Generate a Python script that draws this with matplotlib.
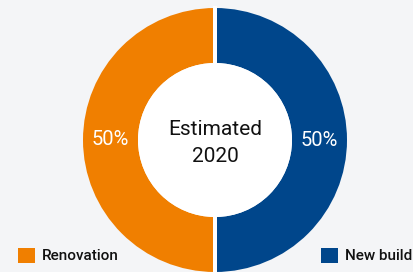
import matplotlib.pyplot as plt
from matplotlib.patches import Patch, Circle, Rectangle

labels = ['Renovation', 'New build']
shares = [50, 50]
colors = ['#f07f00', '#00468b']
center_text = 'Estimated\n2020'

BG = '#f4f5f7'
plt.rcParams['font.family'] = ['Roboto', 'DejaVu Sans']

fig = plt.figure(figsize=(4.14, 2.72), dpi=100, facecolor=BG)
ax = fig.add_axes([0, 0, 1, 1])
ax.set_facecolor(BG)

R, W = 132, 55
cx, cy = 215, 140
wedges, texts = ax.pie(shares, colors=colors, startangle=90, counterclock=True,
                       radius=R, center=(cx, cy), frame=True,
                       labels=['%d%%' % s for s in shares], labeldistance=(R - W / 2) / R,
                       textprops=dict(color='white', fontsize=14.5, ha='center', va='center'),
                       wedgeprops=dict(width=W, edgecolor='none', linewidth=0))
# white hole + gap between the two halves
ax.add_patch(Circle((cx, cy), R - W, facecolor='white', edgecolor='none', zorder=3))
ax.add_patch(Rectangle((cx - 1.8, cy - R - 2), 3.6, 2 * R + 4, facecolor='white',
                       edgecolor='none', zorder=3))
ax.set_xlim(0, 414)
ax.set_ylim(272, 0)
ax.set_aspect('equal')
ax.axis('off')

ax.text(cx, cy + 3, center_text, ha='center', va='center', fontsize=15,
        color='#111111', linespacing=1.5, zorder=4)

# legend runs past the right edge, as in the original
handles = [Patch(facecolor=c, edgecolor='none') for c in colors]
leg = fig.legend(handles, labels, loc='center left', bbox_to_anchor=(0.0285, 0.06),
                 ncol=2, frameon=False, handlelength=1.1, handleheight=1.1,
                 handletextpad=0.45, columnspacing=13.25, borderaxespad=0,
                 prop=dict(size=11, weight='medium'))
for t in leg.get_texts():
    t.set_color('#111111')

plt.savefig('out.png', dpi=100, facecolor=BG)
